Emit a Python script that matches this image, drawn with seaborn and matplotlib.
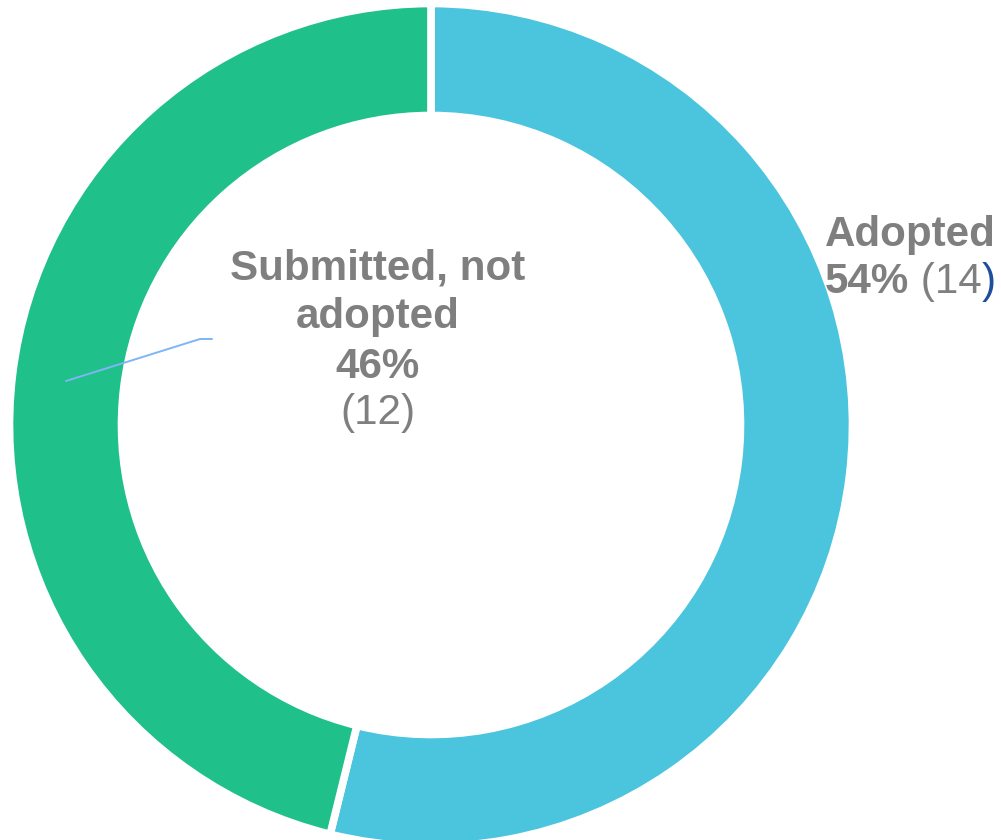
import matplotlib
matplotlib.use("Agg")
import matplotlib.pyplot as plt
import seaborn as sns

# data
labels = ["Adopted", "Submitted, not adopted"]
counts = [14, 12]
colors = ["#4BC4DD", "#20C08A"]

sns.set_theme(style="white")
plt.rcParams['font.family'] = ['Liberation Sans', 'DejaVu Sans']

total = sum(counts)
pcts = [round(c * 100 / total) for c in counts]

fig = plt.figure(figsize=(10.01, 8.4), dpi=100)
ax = fig.add_axes([0, 0, 1, 1])
H = 840

ax.pie(counts, colors=colors, startangle=90, counterclock=False,
       radius=421.5, center=(431, H - 425),
       wedgeprops=dict(width=112, edgecolor="white", linewidth=5.5))
ax.set_xlim(0, 1001)
ax.set_ylim(0, H)
ax.set_aspect("equal")
ax.set_axis_off()

gray = "#7F7F7F"
fs = 30.3

# Adopted label (right)
ax.text(825, H - 246, labels[0], color=gray, fontsize=fs, fontweight="bold",
        ha="left", va="baseline")
t1 = ax.text(825, H - 293, f"{pcts[0]}%", color=gray, fontsize=fs,
             fontweight="bold", ha="left", va="baseline")
t2 = ax.annotate(f" ({counts[0]}", xy=(1, 0), xycoords=t1, color=gray,
                 fontsize=fs, ha="left", va="bottom")
ax.annotate(")", xy=(1, 0), xycoords=t2, color="#1F4E9C",
            fontsize=fs, ha="left", va="bottom")

# Submitted label (inside)
cx = 378
ax.text(cx, H - 280, "Submitted, not", color=gray, fontsize=fs,
        fontweight="bold", ha="center", va="baseline")
ax.text(cx, H - 328, "adopted", color=gray, fontsize=fs,
        fontweight="bold", ha="center", va="baseline")
ax.text(cx, H - 378, f"{pcts[1]}%", color=gray, fontsize=fs,
        fontweight="bold", ha="center", va="baseline")
ax.text(cx, H - 424, f"({counts[1]})", color=gray, fontsize=fs,
        ha="center", va="baseline")

# leader line
ax.plot([66, 200, 212], [H - 381, H - 339, H - 339], color="#7EB6F5", lw=1.4)

fig.savefig("out.png", dpi=100)
